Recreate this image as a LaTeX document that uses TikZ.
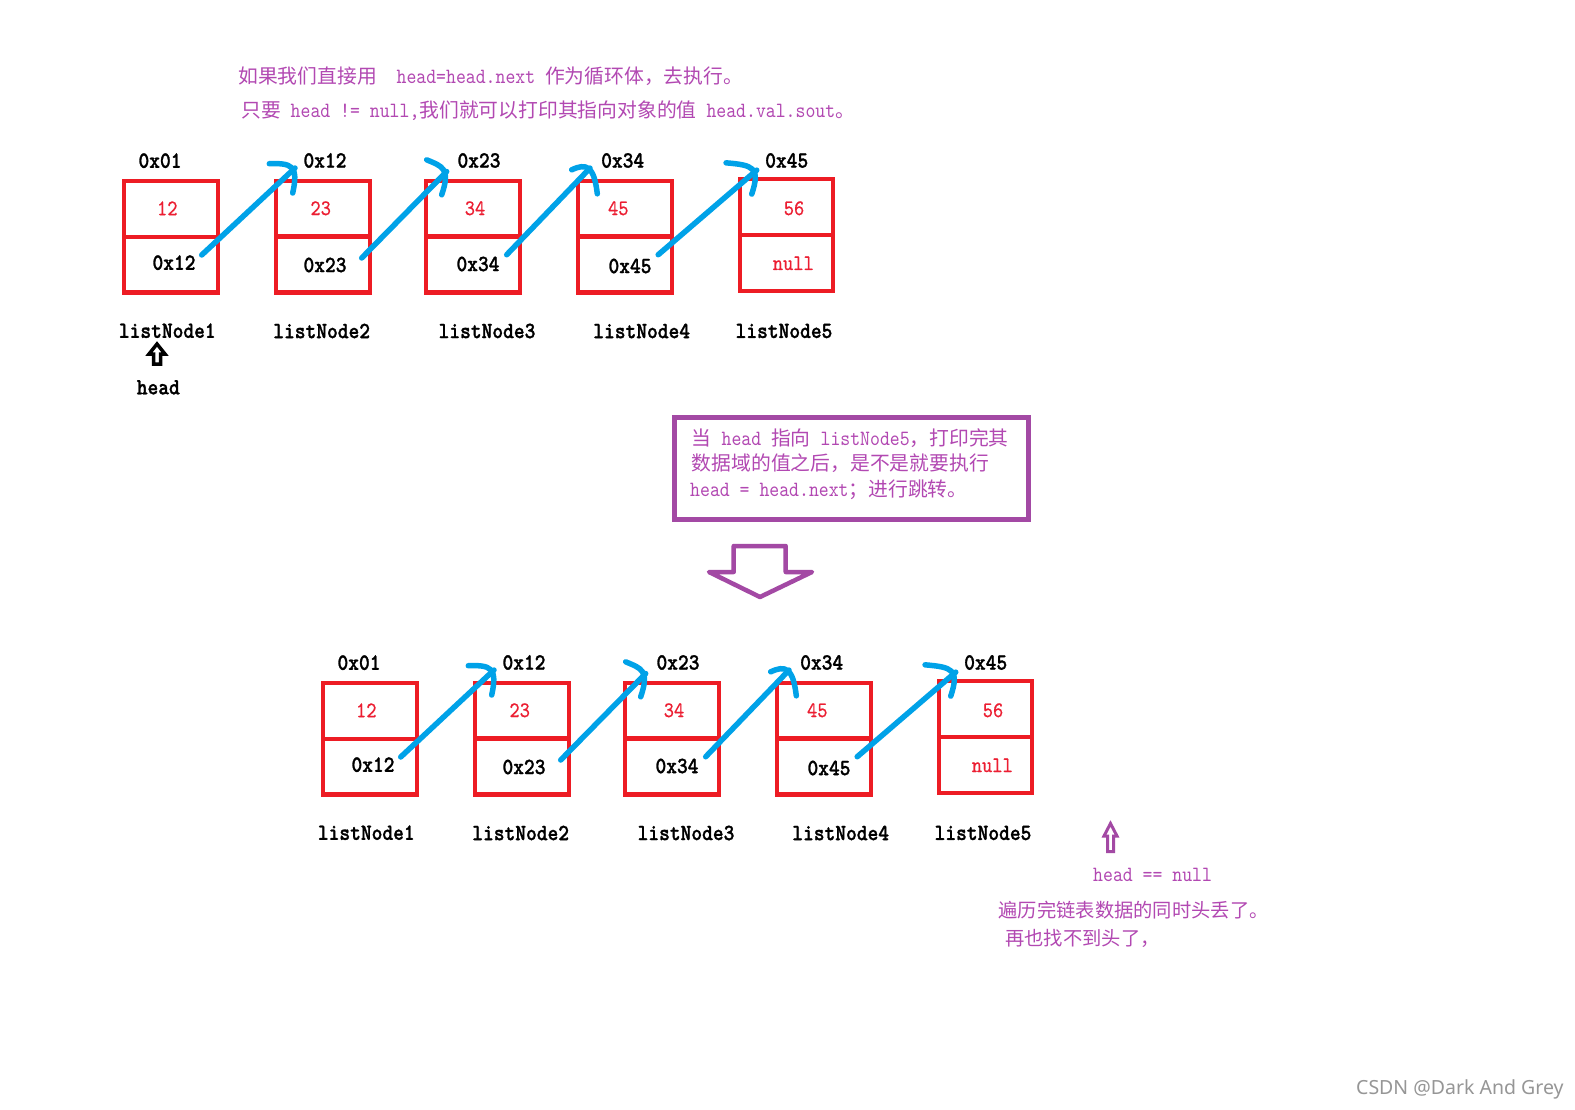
\documentclass[tikz,border=0pt]{standalone}
\usepackage{fontspec}
\setmainfont{lmmono10-regular.otf}[Scale=1.1, FakeStretch=0.8658]
\newfontfamily\labfont{lmmonolt10-bold.otf}[Scale=1.08, FakeStretch=0.8818, FakeBold=1.2]
\newfontfamily\valfont{lmmono10-regular.otf}[Scale=1.08, FakeStretch=0.8818, FakeBold=0.6]
\newfontfamily\cjk{Noto Sans CJK SC}
\newfontfamily\wmfont{Noto Sans}
\usetikzlibrary{calc}
\definecolor{boxred}{RGB}{237,28,36}
\definecolor{valred}{RGB}{236,30,50}
\definecolor{linkblue}{RGB}{0,162,232}
\definecolor{ppl}{RGB}{163,73,164}
\definecolor{ptext}{RGB}{178,72,178}
\definecolor{wmgray}{RGB}{150,150,150}
\newcommand\zh[1]{{\cjk #1}}
\newcommand\gapu[1]{\hspace*{#1\dimexpr9.9pt\relax}}
\tikzset{
  cell/.style={draw=boxred, line width=4.3pt, minimum width=94pt, minimum height=55.75pt, inner sep=0pt, outer sep=0pt},
  cellw/.style={cell, minimum width=92.7pt},
  blk/.style={inner sep=0pt, font=\labfont\fontsize{21.5}{24}\selectfont, text=black},
  val/.style={inner sep=0pt, font=\valfont\fontsize{20.5}{24}\selectfont, text=valred},
  link/.style={draw=linkblue, line width=5.5pt, line cap=round, line join=round},
  ptxt/.style={inner sep=0pt, anchor=west, text=ptext, font=\fontsize{19.8}{26}\selectfont},
  pointer/.style={line width=3.5pt, fill=white, line join=miter},
}
% blue hand-drawn link: start, end, head-start offset, head-end offset
\newcommand\bluearrow[6]{%
  \draw[link] (#1) -- (#2);
  \draw[link] ($(#2)+(#3,#4)$) .. controls ($(#2)+(-4,-5)$) and ($(#2)+(4,-3)$) .. ($(#2)+(#5,#6)$);
}
% one row of list nodes, #1 = name prefix, #2,#3 = offset
\newcommand\drawrow[3]{%
  % cells
  \node[cell]  (#1t1) at ({#2+171.2},{#3+209}) {};
  \node[cell]  (#1b1) at ({#2+171.2},{#3+264.75}) {};
  \node[cell]  (#1t2) at ({#2+323.3},{#3+208.7}) {};
  \node[cell]  (#1b2) at ({#2+323.3},{#3+264.5}) {};
  \node[cell]  (#1t3) at ({#2+473.3},{#3+208.7}) {};
  \node[cell]  (#1b3) at ({#2+473.3},{#3+264.5}) {};
  \node[cell]  (#1t4) at ({#2+625.2},{#3+208.7}) {};
  \node[cell]  (#1b4) at ({#2+625.2},{#3+264.5}) {};
  \node[cellw] (#1t5) at ({#2+786.3},{#3+207}) {};
  \node[cellw] (#1b5) at ({#2+786.3},{#3+263}) {};
  % addresses
  \node[blk] (#1a1) at ({#2+160},{#3+160.7}) {0x01};
  \node[blk] (#1a2) at ({#2+325},{#3+160.5}) {0x12};
  \node[blk] (#1a3) at ({#2+479},{#3+160.5}) {0x23};
  \node[blk] (#1a4) at ({#2+622.7},{#3+160.5}) {0x34};
  \node[blk] (#1a5) at ({#2+786.7},{#3+160.5}) {0x45};
  % values
  \node[val] (#1v1) at ({#2+167.3},{#3+208.3}) {12};
  \node[val] (#1v2) at ({#2+320.7},{#3+208.3}) {23};
  \node[val] (#1v3) at ({#2+475},{#3+208.3}) {34};
  \node[val] (#1v4) at ({#2+618.3},{#3+208.3}) {45};
  \node[val] (#1v5) at ({#2+794},{#3+208.3}) {56};
  % next pointers
  \node[blk] (#1n1) at ({#2+174},{#3+262.7}) {0x12};
  \node[blk] (#1n2) at ({#2+325},{#3+265}) {0x23};
  \node[blk] (#1n3) at ({#2+478},{#3+264}) {0x34};
  \node[blk] (#1n4) at ({#2+630},{#3+266}) {0x45};
  \node[val] (#1n5) at ({#2+793.3},{#3+263.3}) {null};
  % names
  \node[blk] (#1l1) at ({#2+167.3},{#3+330.7}) {listNode1};
  \node[blk] (#1l2) at ({#2+321.7},{#3+331}) {listNode2};
  \node[blk] (#1l3) at ({#2+487},{#3+331}) {listNode3};
  \node[blk] (#1l4) at ({#2+641.7},{#3+331}) {listNode4};
  \node[blk] (#1l5) at ({#2+784},{#3+331}) {listNode5};
  % links
  \coordinate (#1s1) at ($(#1b1.east)+(-16.5,-9.75)$);
  \coordinate (#1e1) at ($(#1t2.north west)+(18.7,-12.8)$);
  \coordinate (#1s2) at ($(#1b2.east)+(-8.6,-6.5)$);
  \coordinate (#1e2) at ($(#1t3.north west)+(20.4,-9.3)$);
  \coordinate (#1s3) at ($(#1b3.east)+(-13.6,-9.75)$);
  \coordinate (#1e3) at ($(#1t4.north west)+(11.8,-12.7)$);
  \coordinate (#1s4) at ($(#1b4.east)+(-14,-9.75)$);
  \coordinate (#1e4) at ($(#1t5.north west)+(16.8,-9)$);
  \bluearrow{#1s1}{#1e1}{-25.7}{-4.3}{-2.3}{25}
  \bluearrow{#1s2}{#1e2}{-20}{-11.7}{-5}{23.3}
  \bluearrow{#1s3}{#1e3}{-18.3}{1.7}{7.3}{25.7}
  \bluearrow{#1s4}{#1e4}{-30.7}{-7.3}{-5}{24}
}
\begin{document}
\begin{tikzpicture}[x=1pt,y=-1pt]
\fill[white] (0,0) rectangle (1575,1110);
\useasboundingbox (0,0) rectangle (1575,1110);

% top explanation
\node[ptxt] (top1) at (238,76.5) {\zh{如果我们直接用}\gapu{2}head=head.next\gapu{1}\zh{作为循环体，去执行。}};
\node[ptxt] (top2) at (241,110.5) {\zh{只要}\gapu{1}head\gapu{1}!=\gapu{1}null,\zh{我们就可以打印其指向对象的值}\gapu{1}head.val.sout\zh{。}};

% first row
\drawrow{a}{0}{0}
\draw[pointer] (157,344) -- (165,354) -- (160.5,354) -- (160.5,364) -- (153.5,364) -- (153.5,354) -- (149,354) -- cycle;
\node[blk] (headlbl) at (158.3,387.3) {head};

% purple note box
\node[draw=ppl, line width=5pt, minimum width=353.8pt, minimum height=102.5pt, inner sep=0pt] (pbox) at (851.4,468.25) {};
\node[ptxt] (pb1) at (691.7,438.3) {\zh{当}\gapu{1}head\gapu{1}\zh{指向}\gapu{1}listNode5\zh{，打印完其}};
\node[ptxt] (pb2) at (691.7,463.3) {\zh{数据域的值之后，是不是就要执行}};
\node[ptxt] (pb3) at (690,490) {head\gapu{1}=\gapu{1}head.next\zh{；进行跳转。}};

% big down arrow
\draw[draw=ppl, line width=4.5pt, line join=round] (733.7,546) -- (785.7,546) -- (785.7,572) -- (812,572) -- (760,597) -- (709,572) -- (733.7,572) -- cycle;

% second row
\drawrow{b}{199}{502}

% head == null
\draw[pointer, draw=ppl, line width=3pt] (1110.5,823.5) -- (1117,836) -- (1113.5,836) -- (1113.5,851.5) -- (1107.5,851.5) -- (1107.5,836) -- (1104,836) -- cycle;
\node[ptxt] (hn) at (1093,875) {head\gapu{1}==\gapu{1}null};
\node[ptxt, font=\fontsize{19.3}{26}\selectfont] (bt1) at (998.3,910) {\zh{遍历完链表数据的同时头丢了。}};
\node[ptxt, font=\fontsize{19.3}{26}\selectfont] (bt2) at (1005,938.3) {\zh{再也找不到头了，}};

% watermark
\node[anchor=west, inner sep=0pt, text=wmgray, font=\wmfont\fontsize{19.5}{22}\selectfont] (wm) at (1356,1089) {CSDN @Dark And Grey};
\end{tikzpicture}
\end{document}
